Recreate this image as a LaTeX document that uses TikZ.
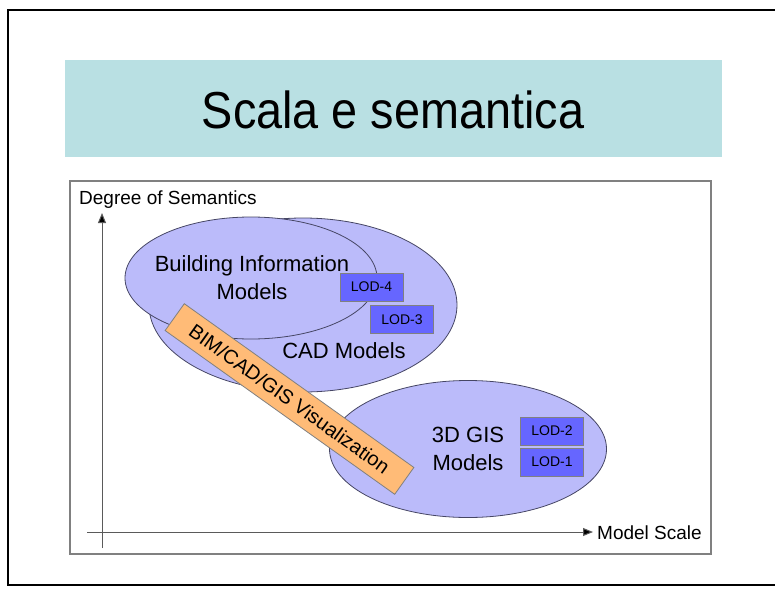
\documentclass[tikz,border=0pt]{standalone}
\usepackage{fontspec}
\setmainfont{Liberation Sans}
\newfontfamily\titlefont{Liberation Sans}[FakeStretch=0.9]
\usetikzlibrary{shapes.geometric,arrows.meta}
\definecolor{titlebg}{RGB}{185,224,227}
\definecolor{ellfill}{RGB}{187,187,250}
\definecolor{ellline}{RGB}{70,70,100}
\definecolor{lodfill}{RGB}{102,102,255}
\definecolor{visfill}{RGB}{255,187,119}
\definecolor{framegray}{RGB}{128,128,128}
\tikzset{
  ell/.style={ellipse, draw=ellline, fill=ellfill, line width=0.8pt, inner sep=0pt},
  lodbox/.style={rectangle, draw=framegray, fill=lodfill, line width=0.8pt, minimum width=63pt, minimum height=28pt, inner sep=0pt, font=\fontsize{14}{16}\selectfont},
  lbl/.style={align=center, inner sep=0pt, font=\fontsize{22}{28}\selectfont},
  axislbl/.style={inner sep=0pt, font=\fontsize{19}{22}\selectfont},
  axisline/.style={draw=framegray!70!black, line width=1pt, -{Triangle[length=10pt,width=8pt,fill=black]}},
  visbox/.style={rectangle, draw=framegray, fill=visfill, line width=0.8pt, minimum width=282pt, minimum height=33pt, inner sep=0pt, rotate=-35.5, font=\fontsize{20}{24}\selectfont}
}
\begin{document}
\begin{tikzpicture}[x=1pt,y=-1pt]
\useasboundingbox (0,0) rectangle (775,588);
% outer slide frame
\draw[black, line width=2.5pt] (790,10) -- (8,10) -- (8,585) -- (790,585);
% title
\node[rectangle, fill=titlebg, minimum width=657pt, minimum height=97pt, inner sep=0pt] (titlebox) at (393.5,108.5) {};
\node[inner sep=0pt, font=\titlefont\fontsize{52}{56}\selectfont] (title) at (393,110) {Scala e semantica};
% inner frame
\node[rectangle, draw=framegray, line width=2pt, minimum width=641pt, minimum height=373pt, inner sep=0pt] (frame) at (390.5,367.5) {};
% axes
\coordinate (ybot) at (102,548);
\coordinate (ytop) at (102,213);
\coordinate (xleft) at (87,532);
\coordinate (xright) at (593,532);
\draw[axisline] (ybot) -- (ytop);
\draw[axisline] (xleft) -- (xright);
\node[axislbl, anchor=west] (ylbl) at (79,200) {Degree of Semantics};
\node[axislbl, anchor=west] (xlbl) at (597,533) {Model Scale};
% ellipses
\node[ell, minimum width=308pt, minimum height=174pt] (cad) at (303,305) {};
\node[ell, minimum width=252pt, minimum height=122pt] (bim) at (251,278) {};
\node[ell, minimum width=277pt, minimum height=137pt] (gis) at (468,449) {};
% labels
\node[lbl] (bimlbl) at (252,278) {Building Information\\Models};
\node[lbl] (cadlbl) at (344,351) {CAD Models};
\node[lbl] (gislbl) at (468,449) {3D GIS\\Models};
% LOD boxes
\node[lodbox] (lod4) at (371.5,287) {LOD-4};
\node[lodbox] (lod3) at (402,319.5) {LOD-3};
\node[lodbox] (lod2) at (552,431) {LOD-2};
\node[lodbox] (lod1) at (552,462) {LOD-1};
% visualization bar
\node[visbox] (vis) at (289.5,399) {BIM/CAD/GIS Visualization};
\end{tikzpicture}
\end{document}
